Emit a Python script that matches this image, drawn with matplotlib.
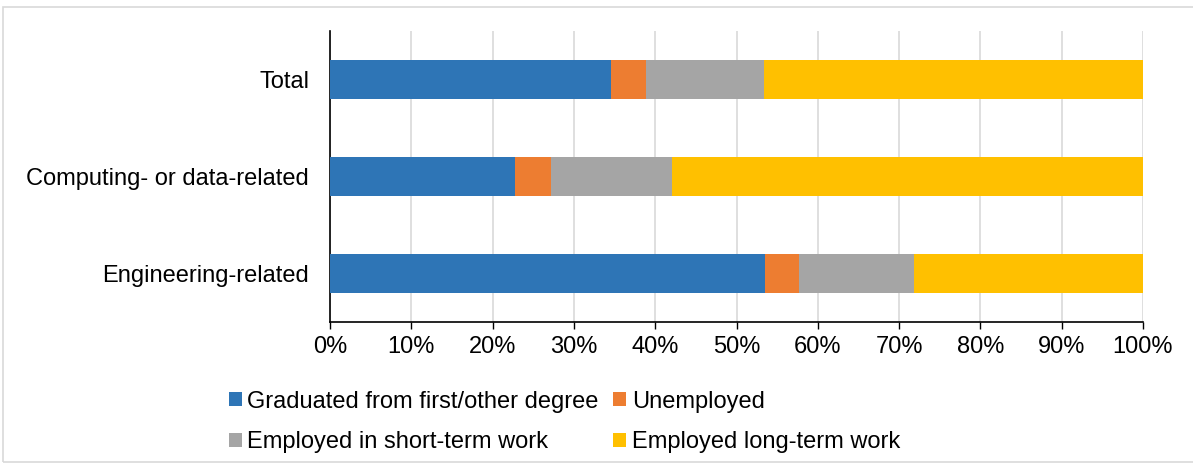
import matplotlib.pyplot as plt
from matplotlib.patches import Rectangle
from matplotlib.ticker import PercentFormatter

plt.rcParams['font.family'] = ['Liberation Sans', 'DejaVu Sans']

categories = ['Engineering-related', 'Computing- or data-related', 'Total']
graduated = [53.5, 22.8, 34.6]
unemployed = [4.2, 4.4, 4.3]
short_term = [14.1, 14.9, 14.5]
long_term = [28.2, 57.9, 46.6]

series = [
    ('Graduated from first/other degree', graduated, '#2E75B6'),
    ('Unemployed', unemployed, '#ED7D31'),
    ('Employed in short-term work', short_term, '#A5A5A5'),
    ('Employed long-term work', long_term, '#FFC000'),
]

fig = plt.figure(figsize=(11.93, 4.63), dpi=100)
ax = fig.add_axes([330/1193, 1 - 322/463, 813/1193, 291/463])

left = [0, 0, 0]
for name, vals, col in series:
    ax.barh(categories, vals, left=left, height=0.4, color=col, label=name, zorder=3)
    left = [l + v for l, v in zip(left, vals)]

ax.set_xlim(0, 100)
ax.set_ylim(-0.5, 2.5)
ax.set_xticks(range(0, 101, 10))
ax.xaxis.set_major_formatter(PercentFormatter(decimals=0))
ax.grid(axis='x', color='#d9d9d9', linewidth=1.2, zorder=0)
for s in ['top', 'right']:
    ax.spines[s].set_visible(False)
ax.spines['left'].set_linewidth(1.2)
ax.spines['bottom'].set_linewidth(1.2)
ax.tick_params(axis='x', length=5, width=1, labelsize=17, pad=5)
ax.tick_params(axis='y', length=0, labelsize=17, pad=15)

# legend: row 1 graduated / unemployed, row 2 short-term / long-term
handles, labels = ax.get_legend_handles_labels()
order = [0, 2, 1, 3]
fig.legend([handles[i] for i in order], [labels[i] for i in order], ncol=2, loc='upper left',
           bbox_to_anchor=(212/1193, 1 - 374/463), frameon=False, fontsize=17,
           handlelength=0.55, handleheight=0.55, handletextpad=0.25,
           columnspacing=0.6, labelspacing=0.8, borderpad=0.2)

fig.patches.append(Rectangle((3/1193, 0.002), 1.2, 1 - 7/463 - 0.002, transform=fig.transFigure,
                             fill=False, edgecolor='#d9d9d9', linewidth=1.2))

fig.savefig('out.png', dpi=100)
